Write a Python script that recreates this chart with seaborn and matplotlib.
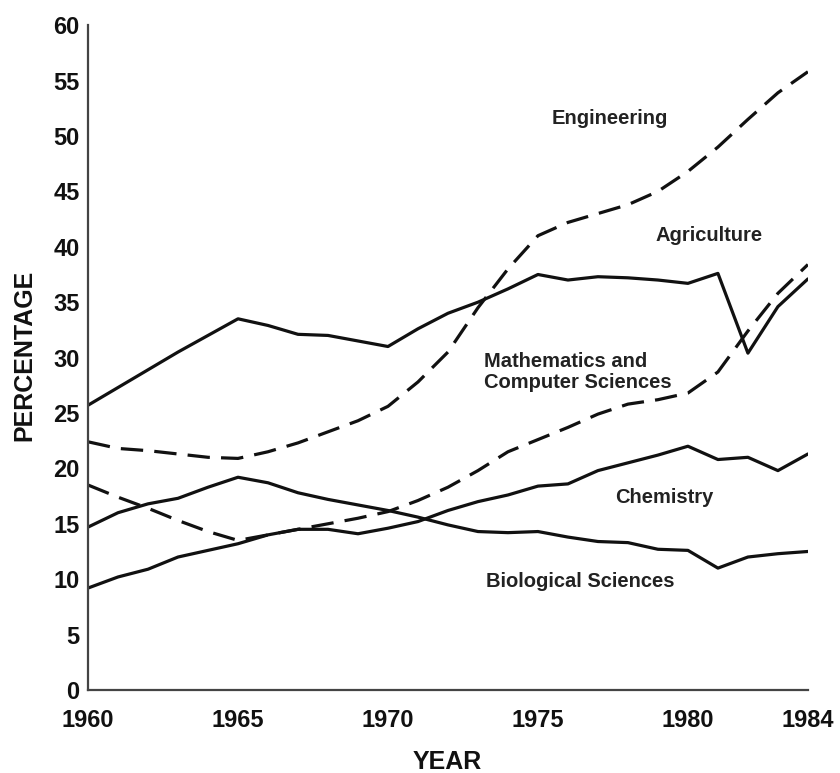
import numpy as np
import pandas as pd
import matplotlib
matplotlib.use("Agg")
import matplotlib.pyplot as plt
import seaborn as sns


years = list(range(1960, 1985))

engineering = [22.4, 21.8, 21.6, 21.3, 21.0, 20.9, 21.5, 22.3, 23.3, 24.3,
               25.6, 27.8, 30.5, 34.5, 38.0, 41.0, 42.2, 43.0, 43.8, 45.0,
               46.8, 49.0, 51.5, 53.9, 55.8]
agriculture = [25.7, 27.3, 28.9, 30.5, 32.0, 33.5, 32.9, 32.1, 32.0, 31.5,
               31.0, 32.6, 34.0, 35.0, 36.2, 37.5, 37.0, 37.3, 37.2, 37.0,
               36.7, 37.6, 30.4, 34.6, 37.1]
math_cs = [18.5, 17.4, 16.4, 15.3, 14.3, 13.5, 14.0, 14.5, 15.0, 15.5,
           16.1, 17.1, 18.3, 19.8, 21.5, 22.6, 23.7, 24.9, 25.8, 26.2,
           26.8, 28.7, 32.4, 35.8, 38.4]
chemistry = [9.2, 10.2, 10.9, 12.0, 12.6, 13.2, 14.0, 14.5, 14.5, 14.1,
             14.6, 15.2, 16.2, 17.0, 17.6, 18.4, 18.6, 19.8, 20.5, 21.2,
             22.0, 20.8, 21.0, 19.8, 21.3]
biology = [14.7, 16.0, 16.8, 17.3, 18.3, 19.2, 18.7, 17.8, 17.2, 16.7,
           16.2, 15.6, 14.9, 14.3, 14.2, 14.3, 13.8, 13.4, 13.3, 12.7,
           12.6, 11.0, 12.0, 12.3, 12.5]

fields = ["Engineering", "Agriculture", "Mathematics and\nComputer Sciences",
          "Chemistry", "Biological Sciences"]
series = [engineering, agriculture, math_cs, chemistry, biology]
dashed = [True, False, True, False, False]

# label positions (year, percentage) and alignment
label_pos = [(1977.4, 51.6, "center"), (1980.7, 41.0, "center"),
             (1973.2, 28.7, "left"), (1979.2, 17.4, "center"),
             (1976.4, 9.8, "center")]

x_ticks = [1960, 1965, 1970, 1975, 1980, 1984]
x_minor = [1981, 1982, 1983]
y_ticks = list(range(0, 61, 5))

df = pd.DataFrame({
    "year": np.tile(years, len(fields)),
    "pct": np.concatenate(series),
    "field": np.repeat(fields, len(years)),
})

sns.set_theme(style="white")
plt.rcParams["font.family"] = ["Liberation Sans", "DejaVu Sans"]

fig = plt.figure(figsize=(8.4, 7.73), dpi=100)
ax = fig.add_axes([0.1048, 0.1074, 0.857, 0.860])

dash_map = {f: ((7, 3.5) if d else "") for f, d in zip(fields, dashed)}
sns.lineplot(data=df, x="year", y="pct", hue="field", style="field",
             palette=["#111111"] * len(fields), dashes=dash_map,
             linewidth=2.3, legend=False, ax=ax)

for (x, y, ha), name in zip(label_pos, fields):
    ax.text(x, y, name, ha=ha, va="center", fontsize=14.5, fontweight="bold",
            color="#222222", linespacing=1.1)

ax.set_xlim(1960, 1984)
ax.set_ylim(0, 60)
ax.set_xticks(x_ticks)
ax.set_xticks(x_minor, minor=True)
ax.set_yticks(y_ticks)
ax.tick_params(axis="both", which="major", direction="in", length=7,
               width=1.3, color="#333333", labelsize=17, labelcolor="#111111")
ax.tick_params(axis="x", which="major", pad=14)
ax.tick_params(axis="y", which="major", pad=6)
ax.tick_params(axis="x", which="minor", direction="in", length=4,
               width=1.0, color="#333333")
for lbl in ax.get_xticklabels() + ax.get_yticklabels():
    lbl.set_fontweight("bold")

sns.despine(ax=ax)
for side in ["left", "bottom"]:
    ax.spines[side].set_linewidth(1.6)
    ax.spines[side].set_color("#444444")

ax.set_xlabel("YEAR", fontsize=18, fontweight="bold", color="#111111")
ax.set_ylabel("PERCENTAGE", fontsize=18, fontweight="bold", color="#111111")
ax.xaxis.set_label_coords(0.499, -0.09)
ax.yaxis.set_label_coords(-0.072, 0.504)

fig.savefig("out.png", dpi=100)
